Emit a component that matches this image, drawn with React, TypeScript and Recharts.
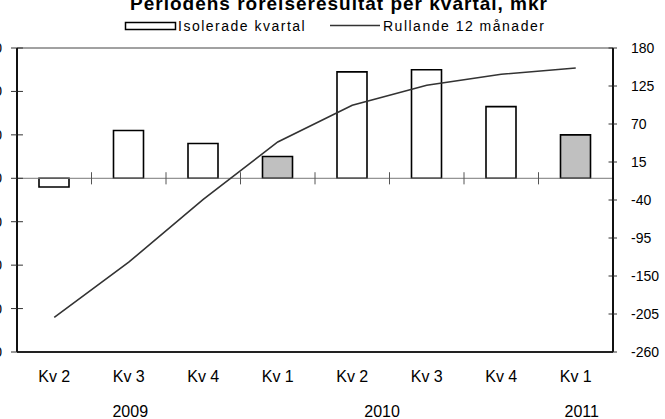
import React from "react";
import {
  ComposedChart,
  Bar,
  Line,
  XAxis,
  YAxis,
  ReferenceLine,
  Cell,
} from "recharts";

const quarters = ["Kv 2", "Kv 3", "Kv 4", "Kv 1", "Kv 2", "Kv 3", "Kv 4", "Kv 1"];
const isolated = [-4, 22, 16, 10, 49, 50, 33, 20];
const rolling = [-210, -130, -39, 44, 97, 126, 142, 151];
const leftTicks = [60, 40, 20, 0, -20, -40, -60, -80];
const rightTicks = [180, 125, 70, 15, -40, -95, -150, -205, -260];
const yearTicks = [1.52, 4.9, 7.58];
const yearLabels = ["2009", "2010", "2011"];

const TITLE = "Periodens rörelseresultat per kvartal, mkr";
const LEGEND_BAR = "Isolerade kvartal";
const LEGEND_LINE = "Rullande 12 månader";

const FONT = "'Liberation Sans', Arial, sans-serif";

const data = quarters.map((q, i) => ({
  q,
  idx: i + 0.5,
  bar: isolated[i],
  roll: rolling[i],
}));

export default function App() {
  const n = data.length;
  const boundaries = Array.from({ length: n - 1 }, (_, i) => i + 1);
  return (
    <div
      style={{
        position: "fixed",
        left: 0,
        top: 0,
        width: 665,
        height: 419,
        overflow: "hidden",
        background: "#fff",
        fontFamily: FONT,
      }}
    >
      <ComposedChart
        width={665}
        height={419}
        data={data}
        margin={{ top: 48, right: 0, bottom: 0, left: 0 }}
        style={{ position: "absolute", left: 0, top: 0 }}
      >
        <XAxis
          xAxisId="cat"
          dataKey="q"
          type="category"
          height={40}
          tickLine={false}
          tickSize={0}
          tickMargin={19}
          axisLine={{ stroke: "#222", strokeWidth: 2 }}
          tick={{ fill: "#000", fontSize: 16, fontFamily: FONT }}
          interval={0}
        />
        <XAxis
          xAxisId="num"
          dataKey="idx"
          type="number"
          domain={[0, n]}
          ticks={yearTicks}
          tickFormatter={(v: number) => yearLabels[yearTicks.indexOf(v)] ?? ""}
          height={27}
          axisLine={false}
          tickLine={false}
          tickSize={0}
          tickMargin={14}
          tick={{ fill: "#000", fontSize: 16, fontFamily: FONT }}
          interval={0}
          allowDataOverflow
        />
        <YAxis
          yAxisId="left"
          orientation="left"
          width={17}
          domain={[-80, 60]}
          ticks={leftTicks}
          interval={0}
          tickSize={6}
          tickMargin={9}
          axisLine={{ stroke: "#111", strokeWidth: 2 }}
          tickLine={{ stroke: "#333" }}
          tick={{ fill: "#000", fontSize: 14, fontFamily: FONT }}
          allowDataOverflow
        />
        <YAxis
          yAxisId="right"
          orientation="right"
          width={52}
          domain={[-260, 180]}
          ticks={rightTicks}
          interval={0}
          tickSize={4}
          tickMargin={14}
          axisLine={{ stroke: "#111", strokeWidth: 2 }}
          tickLine={{ stroke: "#333" }}
          tick={{ fill: "#000", fontSize: 14, fontFamily: FONT }}
          allowDataOverflow
        />
        <ReferenceLine
          xAxisId="cat"
          yAxisId="left"
          y={60}
          stroke="#444"
          strokeWidth={1}
        />
        <ReferenceLine
          xAxisId="cat"
          yAxisId="left"
          y={0}
          stroke="#777"
          strokeWidth={1}
        />
        {boundaries.map((b) => (
          <ReferenceLine
            key={"b" + b}
            xAxisId="num"
            yAxisId="left"
            segment={[
              { x: b, y: -2.8 },
              { x: b, y: 2.8 },
            ]}
            stroke="#555"
            strokeWidth={1}
          />
        ))}
        {leftTicks.map((t) => (
          <ReferenceLine
            key={"l" + t}
            xAxisId="num"
            yAxisId="left"
            segment={[
              { x: 0, y: t },
              { x: 0.08, y: t },
            ]}
            stroke="#333"
            strokeWidth={1}
          />
        ))}
        {rightTicks.map((t) => (
          <ReferenceLine
            key={"r" + t}
            xAxisId="num"
            yAxisId="right"
            segment={[
              { x: n - 0.06, y: t },
              { x: n, y: t },
            ]}
            stroke="#333"
            strokeWidth={1}
          />
        ))}
        <Bar
          xAxisId="cat"
          yAxisId="left"
          dataKey="bar"
          barSize={30}
          stroke="#000"
          strokeWidth={1.6}
          isAnimationActive={false}
        >
          {data.map((d, i) => (
            <Cell key={i} fill={d.q === "Kv 1" ? "#c0c0c0" : "#ffffff"} />
          ))}
        </Bar>
        <Line
          xAxisId="cat"
          yAxisId="right"
          dataKey="roll"
          type="linear"
          stroke="#333"
          strokeWidth={1.6}
          dot={false}
          activeDot={false}
          isAnimationActive={false}
        />
      </ComposedChart>
      <svg
        width={665}
        height={48}
        style={{ position: "absolute", left: 0, top: 0 }}
      >
        <text
          x={339}
          y={10}
          textAnchor="middle"
          fontSize={19}
          fontWeight="bold"
          letterSpacing={1}
          fill="#000"
          fontFamily={FONT}
        >
          {TITLE}
        </text>
        <rect
          x={125.5}
          y={22.5}
          width={50}
          height={7}
          fill="#fff"
          stroke="#000"
          strokeWidth={1.5}
        />
        <text
          x={178}
          y={31}
          fontSize={14}
          letterSpacing={1.5}
          fill="#000"
          fontFamily={FONT}
        >
          {LEGEND_BAR}
        </text>
        <line x1={330} y1={25.5} x2={380} y2={25.5} stroke="#333" strokeWidth={1.5} />
        <text
          x={383}
          y={31}
          fontSize={14}
          letterSpacing={1.5}
          fill="#000"
          fontFamily={FONT}
        >
          {LEGEND_LINE}
        </text>
      </svg>
    </div>
  );
}
